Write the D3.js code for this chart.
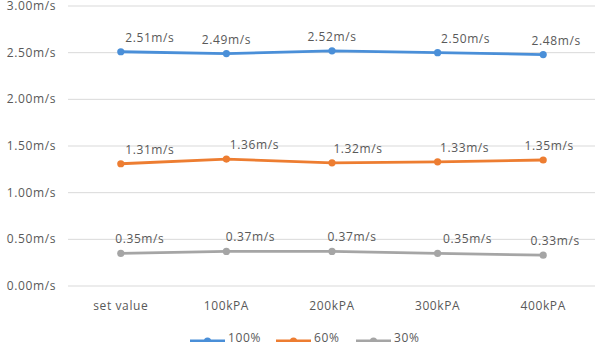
<!DOCTYPE html>
<html>
<head>
<meta charset="utf-8">
<script src="https://cdn.jsdelivr.net/npm/d3@7"></script>
<style>
  body { margin: 0; background: #fff; }
  svg { display: block; }
</style>
</head>
<body>
<script>
var categories = ["set value", "100kPA", "200kPA", "300kPA", "400kPA"];
var seriesNames = ["100%", "60%", "30%"];
var values100 = [2.51, 2.49, 2.52, 2.50, 2.48];
var values60 = [1.31, 1.36, 1.32, 1.33, 1.35];
var values30 = [0.35, 0.37, 0.37, 0.35, 0.33];
var yTicks = [0, 0.5, 1, 1.5, 2, 2.5, 3];

// hand placed label nudges, like in the source chart
var labelDx = [
    [29, 0, 0, 28, 13],
    [29, 28, 26, 27, 6],
    [19, 24, 20, 30, 12]
];

var colors = ["#4a8fd8", "#ed7d31", "#a5a5a5"];
var allValues = [values100, values60, values30];

var width = 595, height = 342;
var margin = { left: 68, right: -1, top: 6, bottom: 56 };

var svg = d3.select("body")
    .append("svg")
    .attr("width", width)
    .attr("height", height)
    .style("font-family", "'Open Sans', sans-serif")
    .style("font-size", "12px")
    .style("letter-spacing", "0.6px");

var x = d3.scaleBand()
    .domain(categories)
    .range([margin.left, width - margin.right]);

var y = d3.scaleLinear()
    .domain([0, 3])
    .range([height - margin.bottom, margin.top]);

// gridlines
svg.selectAll("line.grid")
    .data(yTicks)
    .enter()
    .append("line")
    .attr("class", "grid")
    .attr("x1", margin.left)
    .attr("x2", width - margin.right)
    .attr("y1", function (d) { return y(d); })
    .attr("y2", function (d) { return y(d); })
    .attr("stroke", "#d9d9d9")
    .attr("stroke-width", 1);

// y labels
svg.selectAll("text.ylab")
    .data(yTicks)
    .enter()
    .append("text")
    .attr("class", "ylab")
    .attr("x", 56)
    .attr("y", function (d) { return y(d) + 4; })
    .attr("text-anchor", "end")
    .attr("fill", "#595959")
    .text(function (d) { return d.toFixed(2) + "m/s"; });

// x labels
svg.selectAll("text.xlab")
    .data(categories)
    .enter()
    .append("text")
    .attr("class", "xlab")
    .attr("x", function (d) { return x(d) + x.bandwidth() / 2; })
    .attr("y", 310)
    .attr("text-anchor", "middle")
    .attr("fill", "#595959")
    .text(function (d) { return d; });

var line = d3.line()
    .x(function (d, i) { return x(categories[i]) + x.bandwidth() / 2; })
    .y(function (d) { return y(d); });

allValues.forEach(function (vals, s) {
    svg.append("path")
        .datum(vals)
        .attr("d", line)
        .attr("fill", "none")
        .attr("stroke", colors[s])
        .attr("stroke-width", 2.8)
        .attr("stroke-linejoin", "round");

    svg.selectAll("circle.s" + s)
        .data(vals)
        .enter()
        .append("circle")
        .attr("class", "s" + s)
        .attr("cx", function (d, i) { return x(categories[i]) + x.bandwidth() / 2; })
        .attr("cy", function (d) { return y(d); })
        .attr("r", 3.6)
        .attr("fill", colors[s]);

    svg.selectAll("text.lab" + s)
        .data(vals)
        .enter()
        .append("text")
        .attr("class", "lab" + s)
        .attr("x", function (d, i) { return x(categories[i]) + x.bandwidth() / 2 + labelDx[s][i]; })
        .attr("y", function (d) { return y(d) - 10; })
        .attr("text-anchor", "middle")
        .attr("fill", "#595959")
        .text(function (d) { return d.toFixed(2) + "m/s"; });
});

// legend (bottom edge clips it, as in the source)
var legendX = [190, 276, 356];
var legend = svg.selectAll("g.legend")
    .data(seriesNames)
    .enter()
    .append("g")
    .attr("class", "legend")
    .attr("transform", function (d, i) { return "translate(" + legendX[i] + ",341)"; });

legend.append("line")
    .attr("x1", 0).attr("x2", 35)
    .attr("y1", 0).attr("y2", 0)
    .attr("stroke", function (d, i) { return colors[i]; })
    .attr("stroke-width", 2.8);

legend.append("circle")
    .attr("cx", 17.5).attr("cy", 0).attr("r", 3.6)
    .attr("fill", function (d, i) { return colors[i]; });

legend.append("text")
    .attr("x", 38)
    .attr("y", 1)
    .attr("fill", "#595959")
    .text(function (d) { return d; });
</script>
</body>
</html>
